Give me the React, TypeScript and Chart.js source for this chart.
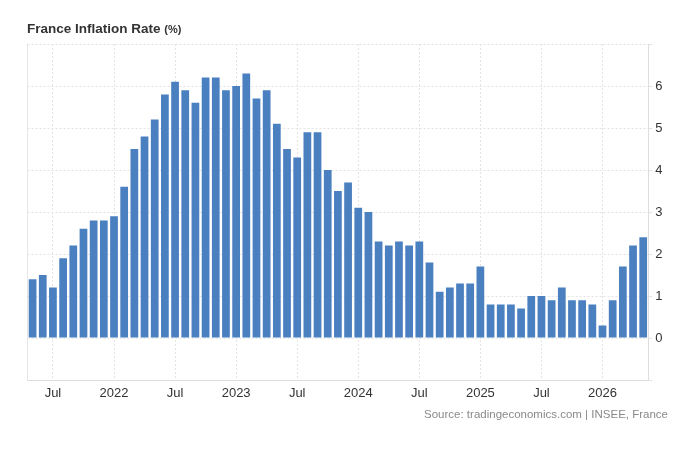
import React, { useEffect, useRef } from "react";
import { Chart, registerables } from "chart.js";

Chart.register(...registerables);

const months = [
  "May 2021","Jun 2021","Jul 2021","Aug 2021","Sep 2021","Oct 2021","Nov 2021","Dec 2021",
  "Jan 2022","Feb 2022","Mar 2022","Apr 2022","May 2022","Jun 2022","Jul 2022","Aug 2022","Sep 2022","Oct 2022","Nov 2022","Dec 2022",
  "Jan 2023","Feb 2023","Mar 2023","Apr 2023","May 2023","Jun 2023","Jul 2023","Aug 2023","Sep 2023","Oct 2023","Nov 2023","Dec 2023",
  "Jan 2024","Feb 2024","Mar 2024","Apr 2024","May 2024","Jun 2024","Jul 2024","Aug 2024","Sep 2024","Oct 2024","Nov 2024","Dec 2024",
  "Jan 2025","Feb 2025","Mar 2025","Apr 2025","May 2025","Jun 2025","Jul 2025","Aug 2025","Sep 2025","Oct 2025","Nov 2025","Dec 2025",
  "Jan 2026","Feb 2026","Mar 2026","Apr 2026","May 2026",
];

const inflation = [
  1.4, 1.5, 1.2, 1.9, 2.2, 2.6, 2.8, 2.8,
  2.9, 3.6, 4.5, 4.8, 5.2, 5.8, 6.1, 5.9, 5.6, 6.2, 6.2, 5.9,
  6.0, 6.3, 5.7, 5.9, 5.1, 4.5, 4.3, 4.9, 4.9, 4.0, 3.5, 3.7,
  3.1, 3.0, 2.3, 2.2, 2.3, 2.2, 2.3, 1.8, 1.1, 1.2, 1.3, 1.3,
  1.7, 0.8, 0.8, 0.8, 0.7, 1.0, 1.0, 0.9, 1.2, 0.9, 0.9, 0.8,
  0.3, 0.9, 1.7, 2.2, 2.4,
];

const yTickLabels = ["0", "1", "2", "3", "4", "5", "6"];

function xLabel(m: string): string | null {
  const [mon, yr] = m.split(" ");
  if (mon === "Jan") return yr;
  if (mon === "Jul") return "Jul";
  return null;
}

export default function App() {
  const ref = useRef<HTMLCanvasElement | null>(null);

  useEffect(() => {
    if (!ref.current) return;
    const chart = new Chart(ref.current, {
      type: "bar",
      data: {
        labels: months,
        datasets: [
          {
            data: inflation,
            backgroundColor: "#4a7fc0",
            borderWidth: 0,
            categoryPercentage: 1,
            barPercentage: 0.76,
          },
        ],
      },
      options: {
        animation: false,
        responsive: false,
        maintainAspectRatio: false,
        layout: { padding: { left: 27.5, top: 44, right: 11.7, bottom: 65 } },
        plugins: {
          legend: { display: false },
          tooltip: { enabled: false },
          title: { display: false },
        },
        scales: {
          x: {
            type: "category",
            offset: true,
            grid: {
              offset: false,
              color: "#e3e3e3",
              lineWidth: 1,
              drawTicks: false,
            },
            border: { display: true, color: "#dddddd", dash: [2, 2] },
            ticks: {
              autoSkip: false,
              maxRotation: 0,
              padding: 6,
              color: "#333333",
              font: { family: "Liberation Sans, Arial, sans-serif", size: 13 },
              callback: (_v: any, i: number) => xLabel(months[i]),
            },
            afterFit: (s: any) => {
              s.height = 20;
            },
          },
          y: {
            position: "right",
            min: -1,
            max: 7,
            grid: {
              color: "#e3e3e3",
              lineWidth: 1,
              drawTicks: true,
              tickLength: 4,
            },
            border: { display: true, color: "#dddddd", dash: [2, 2] },
            ticks: {
              stepSize: 1,
              padding: 3,
              color: "#333333",
              font: { family: "Liberation Sans, Arial, sans-serif", size: 13 },
              callback: (v: any) => {
                const s = String(v);
                return yTickLabels.includes(s) ? s : "";
              },
            },
            afterFit: (s: any) => {
              s.width = 20;
            },
          },
          yLeft: {
            position: "left",
            min: -1,
            max: 7,
            grid: { display: false },
            border: { display: true, color: "#e6e6e6" },
            ticks: { display: false },
            afterFit: (s: any) => {
              s.width = 0;
            },
          },
        },
      },
    });
    return () => chart.destroy();
  }, []);

  return (
    <div
      style={{
        position: "fixed",
        left: 0,
        top: 0,
        width: 680,
        height: 465,
        background: "#ffffff",
        fontFamily: "Liberation Sans, Arial, sans-serif",
      }}
    >
      <canvas ref={ref} width={680} height={465} style={{ position: "absolute", left: 0, top: 0 }} />
      <div
        style={{
          position: "absolute",
          left: 27,
          top: 21,
          fontSize: 13.5,
          fontWeight: "bold",
          color: "#333333",
          whiteSpace: "nowrap",
        }}
      >
        France Inflation Rate <span style={{ fontSize: 11 }}>(%)</span>
      </div>
      <div
        style={{
          position: "absolute",
          right: 12,
          top: 408,
          fontSize: 11.5,
          color: "#8a8a8a",
          whiteSpace: "nowrap",
        }}
      >
        Source: tradingeconomics.com | INSEE, France
      </div>
    </div>
  );
}
